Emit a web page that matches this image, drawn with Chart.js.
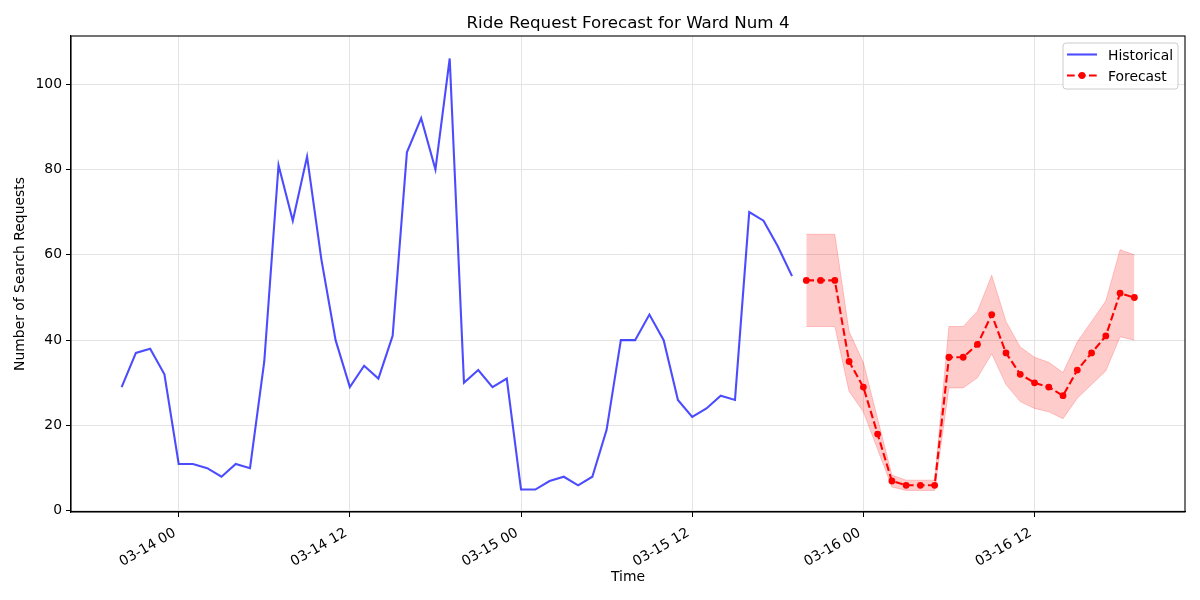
<!DOCTYPE html>
<html>
<head>
<meta charset="utf-8">
<script src="https://cdn.jsdelivr.net/npm/chart.js@4.4.0/dist/chart.umd.min.js"></script>
<style>
html,body{margin:0;padding:0;background:#fff;}
#wrap{width:1200px;height:600px;}
</style>
</head>
<body>
<div id="wrap"><canvas id="c" width="1200" height="600"></canvas></div>
<script>
// Hours are counted from 03-14 00:00
const histStartHour = -4;      // 03-13 20:00
const forecastStartHour = 44;  // 03-15 20:00
const histValues = [29,37,38,32,11,11,10,8,11,10,35,81,68,83,59,40,29,34,31,41,84,92,80,106,30,33,29,31,5,5,7,8,6,8,19,40,40,46,40,26,22,24,27,26,70,68,62,55];
const forecastValues = [54,54,54,35,29,18,7,6,6,6,36,36,39,46,37,32,30,29,27,33,37,41,51,50];
const forecastUpper = [64.8,64.8,64.8,42,34.8,21.6,8.4,7.2,7.2,7.2,43.2,43.2,46.8,55.2,44.4,38.4,36,34.8,32.4,39.6,44.4,49.2,61.2,60];
const forecastLower = [43.2,43.2,43.2,28,23.2,14.4,5.6,4.8,4.8,4.8,28.8,28.8,31.2,36.8,29.6,25.6,24,23.2,21.6,26.4,29.6,32.8,40.8,40];
const xTickHours = [0,12,24,36,48,60];
const xTickLabels = ['03-14 00','03-14 12','03-15 00','03-15 12','03-16 00','03-16 12'];
const yTicks = [0,20,40,60,80,100];

const toPoints = (start, arr) => arr.map((v,i)=>({x:start+i, y:v}));

const FONT = '"DejaVu Sans", "Liberation Sans", sans-serif';

const mplPlugin = {
  id:'mplDecor',
  afterDraw(chart){
    const {ctx, chartArea:a} = chart;
    ctx.save();
    // spines
    ctx.strokeStyle='#000'; ctx.lineWidth=1.1;
    ctx.strokeRect(a.left, a.top, a.right-a.left, a.bottom-a.top);
    // title
    ctx.fillStyle='#000';
    ctx.font='16.7px '+FONT;
    ctx.textAlign='center'; ctx.textBaseline='alphabetic';
    ctx.fillText('Ride Request Forecast for Ward Num 4', (a.left+a.right)/2, 27.7);
    // legend
    const w=115, h=46, x=a.right-7-w, y=a.top+7, r=3;
    ctx.beginPath();
    ctx.moveTo(x+r,y); ctx.lineTo(x+w-r,y); ctx.quadraticCurveTo(x+w,y,x+w,y+r);
    ctx.lineTo(x+w,y+h-r); ctx.quadraticCurveTo(x+w,y+h,x+w-r,y+h);
    ctx.lineTo(x+r,y+h); ctx.quadraticCurveTo(x,y+h,x,y+h-r);
    ctx.lineTo(x,y+r); ctx.quadraticCurveTo(x,y,x+r,y);
    ctx.closePath();
    ctx.fillStyle='rgba(255,255,255,0.8)'; ctx.fill();
    ctx.strokeStyle='#cccccc'; ctx.lineWidth=1; ctx.stroke();
    const lx0=x+4, lx1=x+34, y1=y+11.5, y2=y+32.5;
    ctx.lineWidth=2.1;
    ctx.strokeStyle='rgba(0,0,255,0.7)';
    ctx.beginPath(); ctx.moveTo(lx0,y1); ctx.lineTo(lx1,y1); ctx.stroke();
    ctx.strokeStyle='#ff0000';
    ctx.setLineDash([7.7,3.3]);
    ctx.beginPath(); ctx.moveTo(lx0,y2); ctx.lineTo(lx1,y2); ctx.stroke();
    ctx.setLineDash([]);
    ctx.fillStyle='#ff0000';
    ctx.beginPath(); ctx.arc((lx0+lx1)/2,y2,3.4,0,Math.PI*2); ctx.fill();
    ctx.fillStyle='#000';
    ctx.font='13.9px '+FONT;
    ctx.textAlign='left'; ctx.textBaseline='alphabetic';
    ctx.fillText('Historical', x+45, y+17);
    ctx.fillText('Forecast', x+45, y+38);
    ctx.restore();
  }
};

new Chart(document.getElementById('c'), {
  type:'line',
  data:{
    datasets:[
      {
        label:'Forecast',
        data:toPoints(forecastStartHour, forecastValues),
        borderColor:'#ff0000', backgroundColor:'#ff0000',
        borderWidth:2.1, borderDash:[7.7,3.3],
        pointRadius:3.4, pointBorderWidth:0, pointBackgroundColor:'#ff0000',
        fill:false, tension:0
      },
      {
        label:'Historical',
        data:toPoints(histStartHour, histValues),
        borderColor:'rgba(0,0,255,0.7)',
        borderWidth:2.1, pointRadius:0, fill:false, tension:0
      },
      {
        label:'Upper',
        data:toPoints(forecastStartHour, forecastUpper),
        borderColor:'rgba(255,0,0,0.2)', backgroundColor:'rgba(255,0,0,0.2)',
        borderWidth:1, pointRadius:0, fill:'+1', tension:0
      },
      {
        label:'Lower',
        data:toPoints(forecastStartHour, forecastLower),
        borderColor:'rgba(255,0,0,0.2)', backgroundColor:'rgba(255,0,0,0.2)',
        borderWidth:1, pointRadius:0, fill:false, tension:0
      }
    ]
  },
  options:{
    responsive:false, animation:false, devicePixelRatio:1,
    layout:{padding:{top:36,right:15,left:0,bottom:0}},
    plugins:{legend:{display:false}, tooltip:{enabled:false}, title:{display:false}},
    scales:{
      x:{
        type:'linear', min:-7.55, max:70.55,
        afterBuildTicks:(s)=>{ s.ticks = xTickHours.map(v=>({value:v})); },
        afterFit:(s)=>{ s.height = 88; },
        grid:{color:'#e4e4e4', lineWidth:1, tickColor:'#000', tickLength:5, drawTicks:true},
        border:{display:true, color:'#000', width:1.1},
        ticks:{
          autoSkip:false, minRotation:30, maxRotation:30, padding:5.5,
          color:'#000', font:{family:FONT, size:13.9},
          callback:(v)=>{ const i = xTickHours.indexOf(v); return i>=0 ? xTickLabels[i] + ' ' : ''; }
        },
        title:{display:true, text:'Time', color:'#000', font:{family:FONT, size:13.9}, padding:{top:0,bottom:14.7}}
      },
      y:{
        type:'linear', min:-0.26, max:111.26,
        afterBuildTicks:(s)=>{ s.ticks = yTicks.map(v=>({value:v})); },
        afterFit:(s)=>{ s.width = 71; },
        grid:{color:'#e4e4e4', lineWidth:1, tickColor:'#000', tickLength:5, drawTicks:true},
        border:{display:true, color:'#000', width:1.1},
        ticks:{color:'#000', padding:4, font:{family:FONT, size:13.9}, callback:(v)=>String(v)},
        title:{display:true, text:'Number of Search Requests', color:'#000', font:{family:FONT, size:13.9}, padding:{top:11.7,bottom:0}}
      }
    }
  },
  plugins:[mplPlugin]
});
</script>
</body>
</html>
